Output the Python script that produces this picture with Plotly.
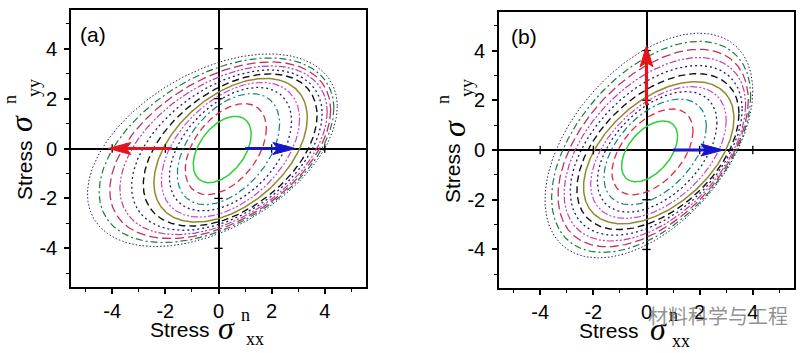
import numpy as np
import plotly.graph_objects as go

# ---------------- data ----------------
# Panel (a) yield loci, inner -> outer, bounding extents
a_xmin = [-0.95, -1.25, -1.55, -1.85, -2.15, -2.43, -2.83, -3.27, -3.71, -4.09, -4.49, -4.93]
a_xmax = [1.23, 1.80, 2.30, 2.75, 3.05, 3.34, 3.71, 3.90, 4.09, 4.22, 4.34, 4.47]
a_ymin = [-1.37, -1.85, -2.25, -2.50, -2.75, -2.95, -3.11, -3.28, -3.45, -3.61, -3.77, -3.93]
a_ymax = [1.29, 1.80, 2.20, 2.45, 2.65, 2.81, 2.99, 3.15, 3.31, 3.47, 3.63, 3.79]
a_phase = 63.0

# Panel (b)
b_xmin = [-0.94, -1.30, -1.60, -1.85, -2.10, -2.37, -2.62, -2.87, -3.10, -3.33, -3.57, -3.82]
b_xmax = [1.17, 1.75, 2.25, 2.65, 3.00, 3.29, 3.48, 3.60, 3.73, 3.83, 3.92, 4.00]
b_ymin = [-1.28, -1.80, -2.20, -2.50, -2.75, -2.97, -3.20, -3.43, -3.66, -3.89, -4.12, -4.34]
b_ymax = [1.17, 1.65, 2.05, 2.35, 2.55, 2.75, 3.07, 3.40, 3.72, 4.05, 4.37, 4.70]
b_phase = 61.0

# arrows: tail -> tip
a_arrow_tail_x = [-1.75, 1.0]
a_arrow_tail_y = [0.0, 0.0]
a_arrow_tip_x = [-4.15, 2.9]
a_arrow_tip_y = [0.0, 0.0]
b_arrow_tail_x = [0.0, 1.0]
b_arrow_tail_y = [1.8, 0.0]
b_arrow_tip_x = [0.0, 2.9]
b_arrow_tip_y = [4.2, 0.0]
arrow_colors = ["#e3141a", "#1616c8"]

tick_vals = [-4, -2, 0, 2, 4]
tick_text = ["-4", "-2", "0", "2", "4"]
axis_range = [-5.55, 5.55]

# ---------------- styles ----------------
curve_colors = ["#2fd03a", "#dc2a44", "#178080", "#1c1c78", "#cc44cc", "#918a2c",
                "#111111", "#1c1c78", "#c03ca8", "#bb3366", "#1f7a40", "#22226e"]
curve_dash = ["solid", "7px,4px", "7px,3px,2px,3px", "2px,3px", "7px,2px,2px,2px,2px,2px", "solid",
              "7px,4px", "2px,3px", "7px,2px,2px,2px,2px,2px", "9px,4px", "7px,3px,2px,3px", "1.5px,2px"]
curve_width = [1.5, 1.3, 1.2, 1.3, 1.2, 1.5, 1.4, 1.3, 1.2, 1.3, 1.2, 1.0]

fig = go.Figure()


def ellipse(xmin, xmax, ymin, ymax, phase_deg, n=361):
    t = np.linspace(0, 2 * np.pi, n)
    cx, w = (xmin + xmax) / 2, (xmax - xmin) / 2
    cy, h = (ymin + ymax) / 2, (ymax - ymin) / 2
    d = np.radians(phase_deg)
    return cx + w * np.cos(t), cy + h * np.cos(t + d)


def add_panel(xmin, xmax, ymin, ymax, phase, xa, ya):
    for i in range(len(xmin)):
        x, y = ellipse(xmin[i], xmax[i], ymin[i], ymax[i], phase)
        fig.add_trace(go.Scatter(x=x, y=y, mode="lines", xaxis=xa, yaxis=ya, showlegend=False,
                                 hoverinfo="skip",
                                 line=dict(color=curve_colors[i], dash=curve_dash[i], width=curve_width[i])))


def add_arrows(tx, ty, hx, hy, xa, ya):
    head_len = 0.85
    head_half = 0.24
    for i in range(len(tx)):
        dx, dy = hx[i] - tx[i], hy[i] - ty[i]
        L = np.hypot(dx, dy)
        ux, uy = dx / L, dy / L
        px, py = -uy, ux
        bx, by = hx[i] - ux * head_len, hy[i] - uy * head_len
        nx, ny = hx[i] - ux * head_len * 0.8, hy[i] - uy * head_len * 0.8
        col = arrow_colors[i]
        fig.add_trace(go.Scatter(x=[tx[i], nx], y=[ty[i], ny], mode="lines", xaxis=xa, yaxis=ya,
                                 showlegend=False, hoverinfo="skip", line=dict(color=col, width=3.2)))
        fig.add_trace(go.Scatter(x=[hx[i], bx + px * head_half, nx, bx - px * head_half, hx[i]],
                                 y=[hy[i], by + py * head_half, ny, by - py * head_half, hy[i]],
                                 mode="lines", fill="toself", fillcolor=col, xaxis=xa, yaxis=ya,
                                 showlegend=False, hoverinfo="skip", line=dict(color=col, width=1)))


def add_zero_ticks(xa, ya):
    xs = [v for v in tick_vals if v != 0]
    fig.add_trace(go.Scatter(x=xs, y=[0] * len(xs), mode="markers", xaxis=xa, yaxis=ya, showlegend=False,
                             hoverinfo="skip",
                             marker=dict(symbol="line-ns", size=6, line=dict(color="black", width=1.3))))
    fig.add_trace(go.Scatter(x=[0] * len(xs), y=xs, mode="markers", xaxis=xa, yaxis=ya, showlegend=False,
                             hoverinfo="skip",
                             marker=dict(symbol="line-ew", size=6, line=dict(color="black", width=1.3))))


add_panel(a_xmin, a_xmax, a_ymin, a_ymax, a_phase, "x", "y")
add_panel(b_xmin, b_xmax, b_ymin, b_ymax, b_phase, "x2", "y2")
add_zero_ticks("x", "y")
add_zero_ticks("x2", "y2")
add_arrows(a_arrow_tail_x, a_arrow_tail_y, a_arrow_tip_x, a_arrow_tip_y, "x", "y")
add_arrows(b_arrow_tail_x, b_arrow_tail_y, b_arrow_tip_x, b_arrow_tip_y, "x2", "y2")

W, H = 812, 353
tickfont = dict(family="Liberation Sans, Arial, sans-serif", size=20, color="black")


def main_axis(domain, anchor, standoff):
    return dict(domain=domain, anchor=anchor, range=axis_range, tickmode="array", tickvals=tick_vals,
                ticktext=tick_text, ticks="outside", ticklen=5, tickwidth=1.5, tickcolor="black",
                minor=dict(dtick=1, tick0=0, ticks="outside", ticklen=3, tickwidth=1.3, tickcolor="black"),
                showline=True, linecolor="black", linewidth=1.6, mirror=True,
                zeroline=True, zerolinecolor="black", zerolinewidth=1.5, showgrid=False,
                tickfont=tickfont, ticklabelstandoff=standoff, fixedrange=True)


def mirror_axis(overlay, side, anchor):
    return dict(overlaying=overlay, side=side, anchor=anchor, range=axis_range, tickmode="array",
                tickvals=tick_vals, ticks="inside", ticklen=5, tickwidth=1.5, tickcolor="black",
                minor=dict(dtick=1, tick0=0, ticks="inside", ticklen=3, tickwidth=1.3, tickcolor="black"),
                showticklabels=False, showline=False, zeroline=False, showgrid=False, fixedrange=True)


xa_dom = [71 / W, 366 / W]
ya_dom = [1 - 287 / H, 1 - 10 / H]
xb_dom = [499 / W, 794 / W]
yb_dom = [1 - 288 / H, 1 - 12 / H]

fig.update_layout(
    width=W, height=H, margin=dict(l=0, r=0, t=0, b=0),
    paper_bgcolor="white", plot_bgcolor="white", showlegend=False,
    xaxis=main_axis(xa_dom, "y", 0),
    yaxis=main_axis(ya_dom, "x", 3),
    xaxis2=main_axis(xb_dom, "y2", 0),
    yaxis2=main_axis(yb_dom, "x2", 3),
    xaxis3=mirror_axis("x", "top", "y"),
    yaxis3=mirror_axis("y", "right", "x"),
    xaxis4=mirror_axis("x2", "top", "y2"),
    yaxis4=mirror_axis("y2", "right", "x2"),
)

sans = "Liberation Sans, Arial, sans-serif"
serif = "Liberation Serif, Times New Roman, serif"


def ann(text, px, py, size, family, angle=0, color="black"):
    fig.add_annotation(text=text, x=px / W, y=1 - py / H, xref="paper", yref="paper",
                       xanchor="center", yanchor="middle", showarrow=False, textangle=angle,
                       font=dict(family=family, size=size, color=color))


# axis titles (a)
ann("Stress", 180, 329, 21, sans)
ann("<i>σ</i>", 226, 328, 32, serif)
ann("n", 245, 315, 18, serif)
ann("xx", 255, 339, 18, serif)
ann("Stress", 24, 170, 21, sans, -90)
ann("<i>σ</i>", 21, 124, 32, serif, -90)
ann("n", 10, 100, 18, serif, -90)
ann("yy", 34, 88, 18, serif, -90)
# axis titles (b)
ann("Stress", 609, 330, 21, sans)
ann("<i>σ</i>", 658, 329, 32, serif)
ann("n", 673, 315, 18, serif)
ann("xx", 681, 341, 18, serif)
ann("Stress", 452, 173, 21, sans, -90)
ann("<i>σ</i>", 454, 129, 32, serif, -90)
ann("n", 443, 100, 18, serif, -90)
ann("yy", 467, 88, 18, serif, -90)
# panel labels
ann("(a)", 93, 35, 21, sans)
ann("(b)", 524, 36, 21, sans)
# watermark
ann("材料科学与工程", 718, 315, 20, "Noto Sans CJK SC", 0, "rgba(110,110,110,0.75)")

fig.write_html("out.html")
